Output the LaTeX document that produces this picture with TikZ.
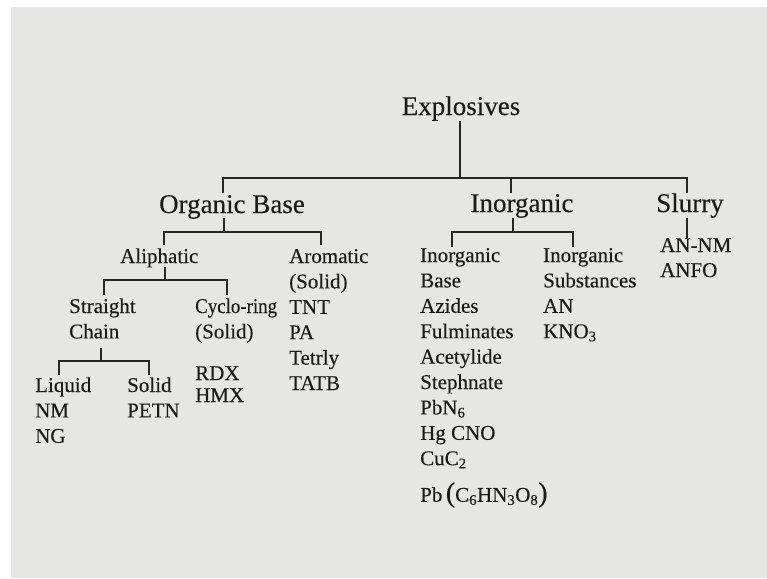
\documentclass[tikz,border=0pt]{standalone}
\usepackage{graphicx}
\usepackage{fontspec}
\setmainfont{Liberation Serif}[BoldFont=Liberation Serif,BoldFeatures={FakeBold=0.25}]
\definecolor{bg}{HTML}{E6E7E5}
\definecolor{ink}{HTML}{1A1A1A}
\definecolor{lnc}{HTML}{262626}
\newcommand{\stk}[1]{\begin{tabular}[t]{@{}l@{}}#1\end{tabular}}
\newcommand{\bigpar}[1]{{\fontsize{28}{28}\selectfont #1}}
\begin{document}
\begin{tikzpicture}[x=1pt,y=-1pt,
  ln/.style={draw=lnc,line width=2.4pt,line join=miter},
  big/.style={inner sep=0pt,anchor=base,text=ink,font=\fontsize{27}{30}\selectfont\bfseries},
  lst/.style={inner sep=0pt,anchor=base west,text=ink,font=\fontsize{21}{25.4}\selectfont\bfseries}]
\fill[white] (0,0) rectangle (767,578);
\fill[bg] (11,7) rectangle (767,578);
\useasboundingbox (0,0) rectangle (767,578);

% level 0 / 1
\node[big] (exp) at (461,115) {Explosives};
\node[big] (org) at (232,213) {Organic Base};
\node[big] (inorg) at (522,212) {Inorganic};
\node[big] (slurry) at (690,212) {Slurry};

% level 2+
\node[lst] (aliph) at (120,263) {Aliphatic};
\node[lst] (arom) at (289,263) {\stk{Aromatic\\(Solid)\\TNT\\PA\\Tetrly\\TATB}};
\node[lst] (straight) at (69,313) {\stk{Straight\\Chain}};
\node[lst] (cyclo) at (195,313) {\stk{\scalebox{0.9}[1]{Cyclo-ring}\\(Solid)}};
\node[lst] (liquid) at (35,392) {\stk{Liquid\\NM\\NG}};
\node[lst] (solid) at (127,392) {\stk{Solid\\PETN}};
\node[lst,font=\fontsize{21}{22}\selectfont\bfseries] (rdx) at (195,380) {\stk{RDX\\HMX}};
\node[lst] (ibase) at (420,262) {\stk{Inorganic\\Base\\Azides\\Fulminates\\Acetylide\\Stephnate\\PbN\textsubscript{6}\\Hg CNO\\CuC\textsubscript{2}\\[9.5pt]Pb\,\bigpar{(}C\textsubscript{6}HN\textsubscript{3}O\textsubscript{8}\bigpar{)}}};
\node[lst] (isub) at (543,262) {\stk{Inorganic\\Substances\\AN\\KNO\textsubscript{3}}};
\node[lst,font=\fontsize{21}{25}\selectfont\bfseries] (slist) at (660,252) {\stk{AN-NM\\ANFO}};

% junction coordinates
\coordinate (b0) at (460,178);
\coordinate (b0l) at (223,178);
\coordinate (b0m) at (511,178);
\coordinate (b0r) at (687,178);
\coordinate (d0l) at (223,193);
\coordinate (d0m) at (511,193);
\coordinate (d0r) at (687,193);

\coordinate (o1) at (224,218);
\coordinate (b1) at (224,232);
\coordinate (b1l) at (164,232);
\coordinate (b1r) at (321,232);
\coordinate (d1l) at (164,245);
\coordinate (d1r) at (321,245);

\coordinate (a1) at (165,267);
\coordinate (b2) at (165,280);
\coordinate (b2l) at (104,280);
\coordinate (b2r) at (227,280);
\coordinate (d2l) at (104,295);
\coordinate (d2r) at (227,295);

\coordinate (s1) at (101,348);
\coordinate (b3) at (101,361);
\coordinate (b3l) at (59,361);
\coordinate (b3r) at (149,361);
\coordinate (d3l) at (59,375);
\coordinate (d3r) at (149,375);

\coordinate (i1) at (513,218);
\coordinate (b4) at (513,232);
\coordinate (b4l) at (452,232);
\coordinate (b4r) at (573,232);
\coordinate (d4l) at (452,247);
\coordinate (d4r) at (573,247);

\coordinate (sl1) at (687,218);
\coordinate (sl2) at (687,238);

% connectors
\draw[ln] (exp.south -| b0) -- (b0);
\draw[ln] (d0l) -- (b0l) -- (b0r) -- (d0r);
\draw[ln] (b0m) -- (d0m);

\draw[ln] (o1) -- (b1);
\draw[ln] (d1l) -- (b1l) -- (b1r) -- (d1r);

\draw[ln] (a1) -- (b2);
\draw[ln] (d2l) -- (b2l) -- (b2r) -- (d2r);

\draw[ln] (s1) -- (b3);
\draw[ln] (d3l) -- (b3l) -- (b3r) -- (d3r);

\draw[ln] (i1) -- (b4);
\draw[ln] (d4l) -- (b4l) -- (b4r) -- (d4r);

\draw[ln] (sl1) -- (sl2);
\end{tikzpicture}
\end{document}
